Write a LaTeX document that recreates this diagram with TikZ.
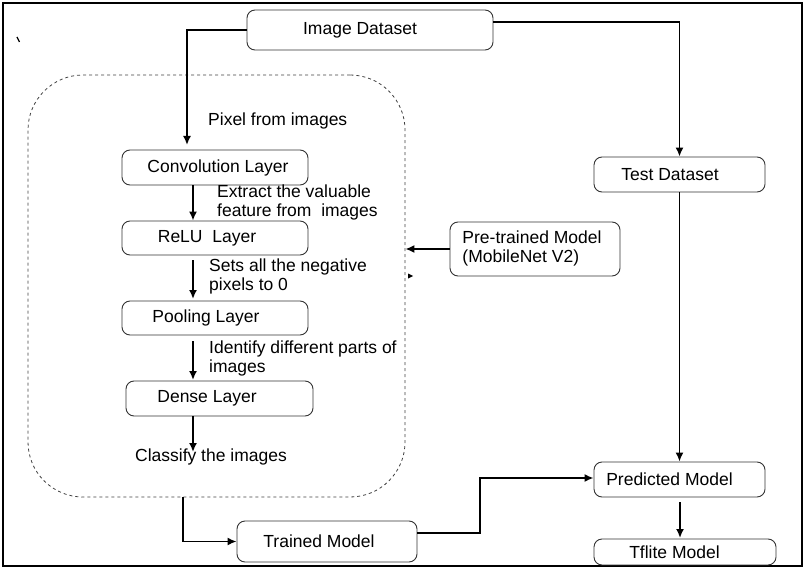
\documentclass[tikz,border=0pt]{standalone}
\usepackage{fontspec}
\setmainfont{Liberation Sans}
\usetikzlibrary{arrows.meta}
\begin{document}
\begin{tikzpicture}[x=1pt,y=-1pt,
  every node/.style={font=\fontsize{17.5}{19}\selectfont},
  box/.style={draw=black!80, line width=0.9pt, rounded corners=8pt, inner sep=0pt},
  arr/.style={line width=1.7pt, -{Latex[length=9pt,width=8pt]}},
  lbl/.style={inner sep=0pt, align=left, anchor=west}]
\useasboundingbox (0,0) rectangle (805,569);
\draw[line width=2.2pt] (3,3) rectangle (802,566);

% dashed group
\node[draw=black!75, dashed, line width=0.8pt, rounded corners=55pt, minimum width=377pt, minimum height=422pt, inner sep=0pt] (grp) at (216.5,286) {};

% boxes
\node[box, minimum width=246pt, minimum height=40pt] (img) at (370,30) {\hspace*{-20pt}Image Dataset};
\node[box, minimum width=186pt, minimum height=35pt] (conv) at (215,167.5) {\hspace*{6pt}Convolution Layer};
\node[box, minimum width=186pt, minimum height=34pt] (relu) at (215,238) {\hspace*{-16pt}ReLU\ \ Layer};
\node[box, minimum width=186pt, minimum height=34pt] (pool) at (215,318) {\hspace*{-18pt}Pooling Layer};
\node[box, minimum width=187pt, minimum height=35pt] (dense) at (219.5,398.5) {\hspace*{-25pt}Dense Layer};
\node[box, minimum width=171pt, minimum height=35pt] (test) at (679.5,174.5) {\hspace*{-19pt}Test Dataset};
\node[box, minimum width=170pt, minimum height=54pt] (pre) at (535,249) {\hspace*{-6pt}\begin{tabular}{@{}l@{}}Pre-trained Model\\(MobileNet V2)\end{tabular}};
\node[box, minimum width=171pt, minimum height=35pt] (pred) at (679.5,479.5) {\hspace*{-20pt}Predicted Model};
\node[box, minimum width=182pt, minimum height=26pt] (tfl) at (685,552) {\hspace*{-21pt}Tflite Model};
\node[box, minimum width=180pt, minimum height=41pt] (trained) at (327,541.5) {\hspace*{-16pt}Trained Model};

% labels
\node[lbl] (l1) at (208,121) {Pixel from images};
\node[lbl] (l2) at (217,202.5) {Extract the valuable\\feature from\ \ images};
\node[lbl] (l3) at (209,276) {Sets all the negative\\pixels to 0};
\node[lbl] (l4) at (209,358.5) {Identify different parts of\\images};
\node[inner sep=0pt] (l5) at (211,457) {Classify the images};

% connectors
\coordinate (pxtip) at (187,145);
\draw[arr] (img.west) -| (pxtip);
\coordinate (imgR) at (493,22);
\draw[arr] (imgR) -| (test.north);
\draw[arr] ([xshift=-22pt]conv.south) -- ([xshift=-22pt]relu.north);
\coordinate (r1) at (193,260);
\coordinate (r2) at (193,299);
\draw[arr] (r1) -- (r2);
\coordinate (p1) at (193,341);
\coordinate (p2) at (193,380);
\draw[arr] (p1) -- (p2);
\coordinate (d2) at (193,452);
\draw[arr] (dense.south -| d2) -- (d2);
\draw[arr] (pre.west) -- (pre.west -| grp.east);
\coordinate (fb) at (183,497);
\draw[arr] (fb) |- (trained.west);
\coordinate (t1) at (417,533);
\coordinate (t2) at (480,533);
\coordinate (t3) at (480,478);
\draw[arr] (t1) -- (t2) -- (t3) -- (t3 -| pred.west);
\draw[arr] (test.south) -- (pred.north);
\coordinate (q1) at (680,502);
\coordinate (q2) at (680,538);
\draw[arr] (q1) -- (q2);

% small marks present in the picture
\draw[line width=1.2pt] (17,37) -- (19.5,42);
\fill (408,273.5) -- (413,276) -- (408,278.5) -- cycle;
\end{tikzpicture}
\end{document}
